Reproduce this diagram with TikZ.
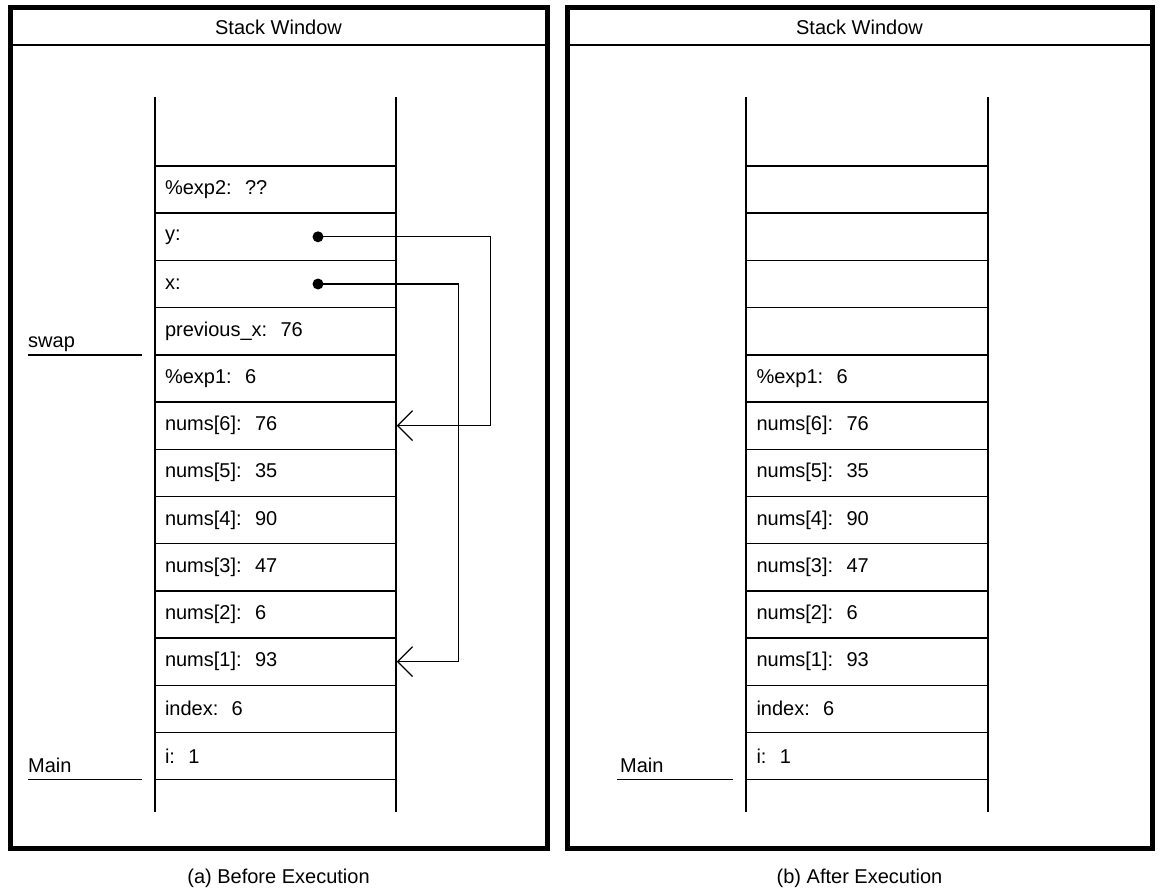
\documentclass[tikz,border=0pt]{standalone}
\usepackage{fontspec}
\setmainfont{Liberation Sans}
\usetikzlibrary{arrows.meta}
\begin{document}
\begin{tikzpicture}[x=1pt,y=-1pt,
  txt/.style={font=\fontsize{20}{23}\selectfont, inner sep=0pt},
  cell/.style={draw, line width=1.4pt, minimum width=241pt, minimum height=47.2pt,
    text width=221pt, align=left, inner xsep=10pt, inner ysep=0pt,
    font=\fontsize{20}{23}\selectfont},
  panel/.style={draw, line width=5pt},
  col/.style={line width=1.5pt},
  thin/.style={line width=1.4pt},
  dot/.style={circle, fill, inner sep=0pt, minimum size=11pt},
  ptr/.style={line width=1.2pt, -{Straight Barb[length=15pt, width=30pt, line width=1.2pt]}}
]
\useasboundingbox (0,0) rectangle (1161,893);

% ---------- left panel ----------
\draw[panel] (10,8) rectangle (547,848);
\draw[thin] (10,45) -- (547,45);
\node[txt] (t1) at (278.5,27) {Stack Window};

\draw[col] (155,97) -- (155,812);
\draw[col] (396,97) -- (396,812);

\node[cell] (a0)  at (275.5,189.6) {\%exp2:\ \ ??};
\node[cell] (a1)  at (275.5,236.8) {y:};
\node[cell] (a2)  at (275.5,284.0) {x:};
\node[cell] (a3)  at (275.5,331.2) {previous\_x:\ \ 76};
\node[cell] (a4)  at (275.5,378.4) {\%exp1:\ \ 6};
\node[cell] (a5)  at (275.5,425.6) {nums[6]:\ \ 76};
\node[cell] (a6)  at (275.5,472.8) {nums[5]:\ \ 35};
\node[cell] (a7)  at (275.5,520.0) {nums[4]:\ \ 90};
\node[cell] (a8)  at (275.5,567.2) {nums[3]:\ \ 47};
\node[cell] (a9)  at (275.5,614.4) {nums[2]:\ \ 6};
\node[cell] (a10) at (275.5,661.6) {nums[1]:\ \ 93};
\node[cell] (a11) at (275.5,708.8) {index:\ \ 6};
\node[cell] (a12) at (275.5,756.0) {i:\ \ 1};

\node[dot] (dy) at (318,236.8) {};
\node[dot] (dx) at (318,284.0) {};
\draw[ptr] (dy.center) -| ([xshift=94pt]a5.east) -- (a5.east);
\draw[ptr] (dx.center) -| ([xshift=62pt]a10.east) -- (a10.east);

\node[txt, anchor=base west] (swap) at (28,347) {swap};
\draw[thin] (28,354.8) -- (142,354.8);
\node[txt, anchor=base west] (mainl) at (28,772) {Main};
\draw[thin] (28,779.6) -- (142,779.6);

\node[txt] (cap1) at (278.5,878) {(a) Before Execution};

% ---------- right panel ----------
\draw[panel] (567,8) rectangle (1152,848);
\draw[thin] (567,45) -- (1152,45);
\node[txt] (t2) at (859.5,27) {Stack Window};

\draw[col] (746,97) -- (746,812);
\draw[col] (988,97) -- (988,812);

\node[cell] (b0)  at (867,189.6) {};
\node[cell] (b1)  at (867,236.8) {};
\node[cell] (b2)  at (867,284.0) {};
\node[cell] (b3)  at (867,331.2) {};
\node[cell] (b4)  at (867,378.4) {\%exp1:\ \ 6};
\node[cell] (b5)  at (867,425.6) {nums[6]:\ \ 76};
\node[cell] (b6)  at (867,472.8) {nums[5]:\ \ 35};
\node[cell] (b7)  at (867,520.0) {nums[4]:\ \ 90};
\node[cell] (b8)  at (867,567.2) {nums[3]:\ \ 47};
\node[cell] (b9)  at (867,614.4) {nums[2]:\ \ 6};
\node[cell] (b10) at (867,661.6) {nums[1]:\ \ 93};
\node[cell] (b11) at (867,708.8) {index:\ \ 6};
\node[cell] (b12) at (867,756.0) {i:\ \ 1};

\node[txt, anchor=base west] (mainr) at (620,772) {Main};
\draw[thin] (617,779.6) -- (733,779.6);

\node[txt] (cap2) at (859.5,878) {(b) After Execution};
\end{tikzpicture}
\end{document}
